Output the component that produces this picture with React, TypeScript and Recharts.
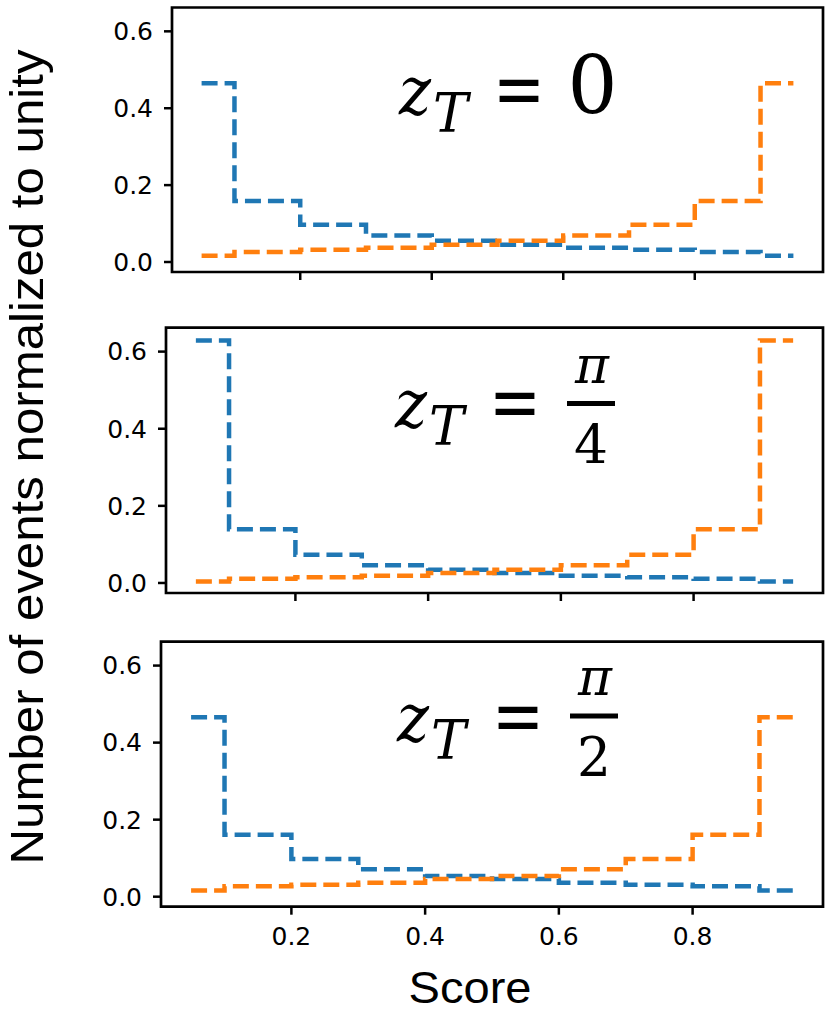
import { LineChart, Line, XAxis, YAxis, ReferenceArea } from "recharts";

// bin centres of the score histogram
const scoreBins = [0.05, 0.15, 0.25, 0.35, 0.45, 0.55, 0.65, 0.75, 0.85, 0.95];
const xTicks = [0.2, 0.4, 0.6, 0.8];
const yTicks = [0, 0.2, 0.4, 0.6];
const xDomain: [number, number] = [0.005, 0.995];
const yDomain: [number, number] = [-0.026, 0.662];

// z_T = 0
const blueZ0 = [0.465, 0.159, 0.097, 0.069, 0.055, 0.045, 0.037, 0.032, 0.026, 0.016];
const orangeZ0 = [0.016, 0.026, 0.032, 0.037, 0.045, 0.055, 0.069, 0.097, 0.159, 0.465];
// z_T = pi/4
const bluePi4 = [0.629, 0.139, 0.073, 0.046, 0.034, 0.026, 0.019, 0.015, 0.011, 0.004];
const orangePi4 = [0.004, 0.011, 0.015, 0.019, 0.026, 0.034, 0.046, 0.073, 0.139, 0.629];
// z_T = pi/2
const bluePi2 = [0.466, 0.161, 0.098, 0.071, 0.054, 0.046, 0.036, 0.031, 0.027, 0.016];
const orangePi2 = [0.016, 0.027, 0.031, 0.036, 0.046, 0.054, 0.071, 0.098, 0.161, 0.466];

const BLUE = "#1f77b4";
const ORANGE = "#ff7f0e";
const SERIF = "'DejaVu Serif'";
const SANS = "'Liberation Sans', Arial, sans-serif";

const toRows = (blue: number[], orange: number[]) =>
  scoreBins.map((x, i) => ({ x, blue: blue[i], orange: orange[i] }));

const fmt = (v: number) => v.toFixed(1);
const tickFont = { fill: "#000", fontSize: 25, fontFamily: "'DejaVu Sans', sans-serif" };
const NoLabel = () => <g />;

interface PanelProps {
  blue: number[];
  orange: number[];
  top: number;
  height: number;
  marginTop: number;
  axisWidth: number;
  axisHeight: number;
  showLabels: boolean;
}

const Panel: React.FC<PanelProps> = ({
  blue,
  orange,
  top,
  height,
  marginTop,
  axisWidth,
  axisHeight,
  showLabels,
}) => (
  <div style={{ position: "absolute", left: 0, top }}>
    <LineChart
      width={830}
      height={height}
      data={toRows(blue, orange)}
      margin={{ top: marginTop, right: 7, left: 0, bottom: 0 }}
    >
      <XAxis
        type="number"
        dataKey="x"
        domain={xDomain}
        ticks={xTicks}
        interval={0}
        allowDataOverflow
        height={axisHeight}
        axisLine={false}
        tickSize={8}
        tickMargin={13}
        tickLine={{ stroke: "#000", strokeWidth: 2.5 }}
        tick={showLabels ? tickFont : NoLabel}
        tickFormatter={fmt}
      />
      <YAxis
        type="number"
        domain={yDomain}
        ticks={yTicks}
        interval={0}
        allowDataOverflow
        width={axisWidth}
        axisLine={false}
        tickSize={8}
        tickMargin={11}
        tickLine={{ stroke: "#000", strokeWidth: 2.5 }}
        tick={tickFont}
        tickFormatter={fmt}
      />
      <Line
        type="step"
        dataKey="blue"
        stroke={BLUE}
        strokeWidth={4.5}
        strokeDasharray="16 7"
        dot={false}
        isAnimationActive={false}
      />
      <Line
        type="step"
        dataKey="orange"
        stroke={ORANGE}
        strokeWidth={4.5}
        strokeDasharray="16 7"
        dot={false}
        isAnimationActive={false}
      />
      <ReferenceArea
        x1={xDomain[0]}
        x2={xDomain[1]}
        y1={yDomain[0]}
        y2={yDomain[1]}
        fill="none"
        stroke="#000"
        strokeWidth={2.7}
        ifOverflow="visible"
      />
    </LineChart>
  </div>
);

// "z_T =" drawn from glyphs; x is the left edge of z, y its baseline, eq the centre of "="
const ZT = ({ x, y, eq }: { x: number; y: number; eq: number }) => (
  <>
    <text
      x={x}
      y={y}
      textLength={32}
      lengthAdjust="spacingAndGlyphs"
      style={{ fontFamily: SERIF, fontStyle: "italic", fontSize: 68 }}
    >
      z
    </text>
    <text
      x={x + 34}
      y={y + 18}
      textLength={35}
      lengthAdjust="spacingAndGlyphs"
      style={{ fontFamily: SERIF, fontStyle: "italic", fontSize: 55 }}
    >
      T
    </text>
    <text
      x={eq}
      y={y + 2}
      textAnchor="middle"
      textLength={52}
      lengthAdjust="spacingAndGlyphs"
      style={{ fontFamily: SERIF, fontSize: 80 }}
    >
      =
    </text>
  </>
);

const Fraction = ({ x, y, den }: { x: number; y: number; den: string }) => (
  <>
    <text
      x={x + 1}
      y={y - 21}
      textAnchor="middle"
      textLength={34}
      lengthAdjust="spacingAndGlyphs"
      style={{ fontFamily: SERIF, fontStyle: "italic", fontSize: 52 }}
    >
      π
    </text>
    <line x1={x - 24} x2={x + 24} y1={y} y2={y} stroke="#000" strokeWidth={5} />
    <text
      x={x}
      y={y + 60}
      textAnchor="middle"
      textLength={34}
      lengthAdjust="spacingAndGlyphs"
      style={{ fontFamily: SERIF, fontSize: 55 }}
    >
      {den}
    </text>
  </>
);

export default function App() {
  return (
    <div
      style={{
        position: "absolute",
        left: 0,
        top: 0,
        width: 830,
        height: 1016,
        background: "#fff",
      }}
    >
      <Panel blue={blueZ0} orange={orangeZ0} top={0} height={330} marginTop={7.5} axisWidth={172} axisHeight={58} showLabels={false} />
      <Panel blue={bluePi4} orange={orangePi4} top={320} height={330} marginTop={7.7} axisWidth={166} axisHeight={57} showLabels={false} />
      <Panel blue={bluePi2} orange={orangePi2} top={634} height={320} marginTop={7.7} axisWidth={161} axisHeight={47.3} showLabels={true} />
      <svg
        width={830}
        height={1016}
        style={{ position: "absolute", left: 0, top: 0, pointerEvents: "none" }}
      >
        <ZT x={399} y={114} eq={519} />
        <text
          x={592.5}
          y={113}
          textAnchor="middle"
          textLength={50}
          lengthAdjust="spacingAndGlyphs"
          style={{ fontFamily: SERIF, fontSize: 80 }}
        >
          0
        </text>
        <ZT x={395} y={427} eq={515} />
        <Fraction x={591} y={403.5} den="4" />
        <ZT x={397} y={741} eq={518} />
        <Fraction x={594} y={716} den="2" />
        <text
          transform="translate(43, 457) rotate(-90)"
          fontFamily={SANS}
          fontSize={47}
          textAnchor="middle"
          textLength={815}
          lengthAdjust="spacingAndGlyphs"
        >
          Number of events normalized to unity
        </text>
        <text
          x={470}
          y={1003}
          fontFamily={SANS}
          fontSize={45}
          textAnchor="middle"
          textLength={123}
          lengthAdjust="spacingAndGlyphs"
        >
          Score
        </text>
      </svg>
    </div>
  );
}
